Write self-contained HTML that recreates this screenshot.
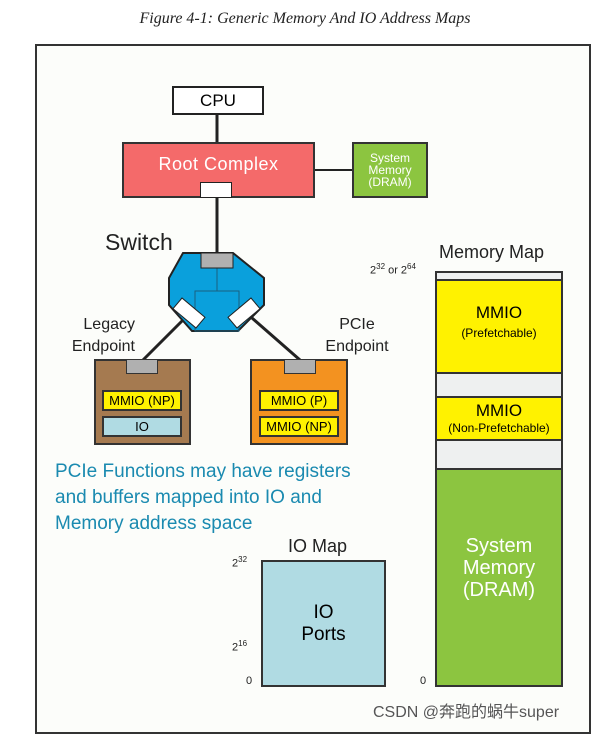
<!DOCTYPE html>
<html><head><style>
body{margin:0;width:610px;height:727px;background:#fff;position:relative;overflow:hidden;font-family:"Liberation Sans",sans-serif}
.a{position:absolute;box-sizing:border-box}
.t{position:absolute;white-space:nowrap}
.c{display:flex;align-items:center;justify-content:center;text-align:center}
</style></head><body>
<div class="t" style="left:0;width:610px;top:10px;text-align:center;font-family:'Liberation Serif',serif;font-style:italic;font-size:16px;color:#222">Figure 4-1: Generic Memory And IO Address Maps</div>
<div class="a" style="left:35px;top:44px;width:556px;height:690px;border:2px solid #333;background:#fcfdfa"></div>
<svg class="a" style="left:0;top:0" width="610" height="727">
<line x1="217" y1="114" x2="217" y2="142" stroke="#222" stroke-width="3"/>
<line x1="314" y1="170" x2="353" y2="170" stroke="#222" stroke-width="2"/>
<line x1="217" y1="197" x2="217" y2="255" stroke="#222" stroke-width="3"/>
<line x1="185" y1="318" x2="143" y2="360" stroke="#222" stroke-width="3"/>
<line x1="252" y1="318" x2="300" y2="360" stroke="#222" stroke-width="3"/>
<polygon points="183,253 233,253 264,278 264,305 238,331 192,331 169,305 169,278" fill="#0aa0dc" stroke="#222" stroke-width="2"/>
<line x1="217" y1="268" x2="217" y2="291" stroke="#1a6080"/>
<rect x="195" y="291" width="44" height="40" fill="none" stroke="#1a6080"/>
<rect x="201" y="253" width="32" height="15" fill="#b0b0b0" stroke="#222"/>
<rect x="174" y="306" width="30" height="14" fill="#fff" stroke="#222" transform="rotate(40 189 313)"/>
<rect x="229" y="306" width="30" height="14" fill="#fff" stroke="#222" transform="rotate(-40 244 313)"/>
</svg>
<div class="a c" style="left:172px;top:86px;width:92px;height:29px;border:2px solid #222;background:#fff;font-size:17px">CPU</div>
<div class="a" style="left:122px;top:142px;width:193px;height:56px;border:2px solid #333;background:#f46a6a;color:#fff;font-size:18px;text-align:center;padding-top:10px;letter-spacing:.5px">Root Complex</div>
<div class="a" style="left:200px;top:182px;width:32px;height:16px;border:1px solid #222;background:#fff"></div>
<div class="a c" style="left:352px;top:142px;width:76px;height:56px;border:2px solid #333;background:#8cc540;color:#fff;font-size:12px;line-height:12px">System<br>Memory<br>(DRAM)</div>
<div class="t" style="left:105px;top:229px;font-size:23px;color:#222">Switch</div>
<div class="t" style="left:55px;top:314px;font-size:16px;line-height:22px;color:#222;text-align:right;width:80px">Legacy<br>Endpoint</div>
<div class="t" style="left:310px;top:314px;font-size:16px;line-height:22px;color:#222;text-align:center;width:94px">PCIe<br>Endpoint</div>
<div class="a" style="left:94px;top:359px;width:97px;height:86px;border:2px solid #333;background:#a57a50"></div>
<div class="a" style="left:126px;top:359px;width:32px;height:15px;border:1px solid #333;background:#b0b0b0"></div>
<div class="a c" style="left:102px;top:390px;width:80px;height:21px;border:2px solid #333;background:#fff200;font-size:13px">MMIO (NP)</div>
<div class="a c" style="left:102px;top:416px;width:80px;height:21px;border:2px solid #333;background:#b0dbe3;font-size:13px">IO</div>
<div class="a" style="left:250px;top:359px;width:98px;height:86px;border:2px solid #333;background:#f39220"></div>
<div class="a" style="left:284px;top:359px;width:32px;height:15px;border:1px solid #333;background:#b0b0b0"></div>
<div class="a c" style="left:259px;top:390px;width:80px;height:21px;border:2px solid #333;background:#fff200;font-size:13px">MMIO (P)</div>
<div class="a c" style="left:259px;top:416px;width:80px;height:21px;border:2px solid #333;background:#fff200;font-size:13px">MMIO (NP)</div>
<div class="t" style="left:55px;top:459px;font-size:19px;line-height:26px;color:#1a8ab0">PCIe Functions may have registers<br>and buffers mapped into IO and<br>Memory address space</div>
<div class="t" style="left:288px;top:536px;font-size:18px;color:#222">IO Map</div>
<div class="t" style="left:232px;top:555px;font-size:11px;color:#222">2<sup style="font-size:8px">32</sup></div>
<div class="t" style="left:232px;top:639px;font-size:11px;color:#222">2<sup style="font-size:8px">16</sup></div>
<div class="t" style="left:246px;top:675px;font-size:11px;color:#222">0</div>
<div class="a c" style="left:261px;top:560px;width:125px;height:127px;border:2px solid #333;background:#b0dbe3;font-size:19px;line-height:22px">IO<br>Ports</div>
<div class="t" style="left:439px;top:242px;font-size:18px;color:#222">Memory Map</div>
<div class="t" style="left:370px;top:262px;font-size:11px;color:#222">2<sup style="font-size:8px">32</sup> or 2<sup style="font-size:8px">64</sup></div>
<div class="t" style="left:420px;top:675px;font-size:11px;color:#222">0</div>
<div class="a" style="left:435px;top:271px;width:128px;height:416px;border:2px solid #333;background:#eef0f0"></div>
<div class="a c" style="left:435px;top:279px;width:128px;height:95px;border:2px solid #333;background:#fff200;flex-direction:column;font-size:17px;padding-bottom:10px">MMIO<span style="font-size:12px;margin-top:3px">(Prefetchable)</span></div>
<div class="a c" style="left:435px;top:396px;width:128px;height:45px;border:2px solid #333;background:#fff200;flex-direction:column;font-size:17px;line-height:18px">MMIO<span style="font-size:12px;margin-top:1px;line-height:14px">(Non-Prefetchable)</span></div>
<div class="a c" style="left:435px;top:468px;width:128px;height:219px;border:2px solid #333;background:#8cc540;color:#fff;font-size:20px;line-height:22px;padding-bottom:20px">System<br>Memory<br>(DRAM)</div>
<div class="t" style="left:373px;top:698px;font-size:16px;color:#555;text-shadow:0 0 2px #fff;font-family:'Liberation Sans','Noto Sans CJK SC',sans-serif">CSDN @奔跑的蜗牛super</div>
</body></html>
